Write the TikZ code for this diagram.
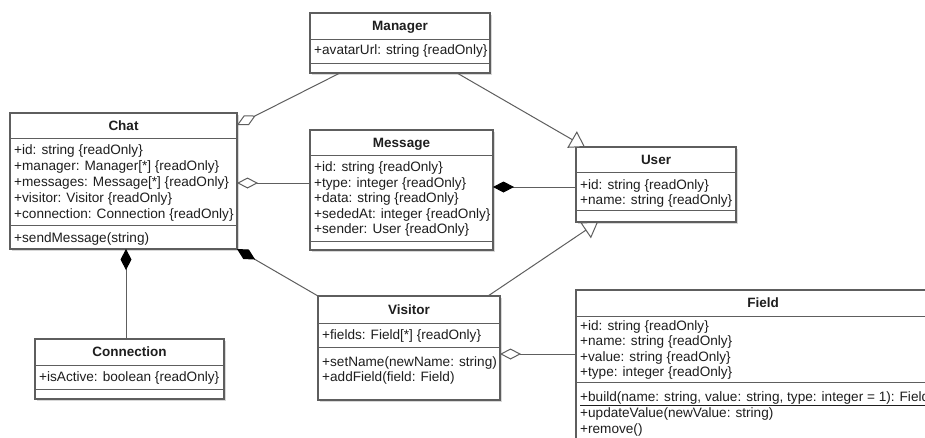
\documentclass[tikz,border=0pt]{standalone}
\usepackage{fontspec}
\setmainfont{Liberation Sans}
\usetikzlibrary{arrows.meta,calc,shadows}
\definecolor{lncol}{HTML}{5E5E5E}
\definecolor{txcol}{HTML}{1E1E1E}
\begin{document}
\begin{tikzpicture}[x=1pt,y=-1pt,
  cls/.style={draw=lncol,line width=1.1pt,fill=white,inner sep=0pt,outer sep=0pt,anchor=north west,
    drop shadow={shadow xshift=2pt,shadow yshift=-2pt,opacity=0.25,fill=black!60}},
  div/.style={draw=lncol,line width=1pt},
  ttl/.style={anchor=base,inner sep=0pt,text=txcol,font=\fontsize{13.5}{15}\selectfont\bfseries},
  attr/.style={anchor=base west,inner sep=0pt,text=txcol,font=\fontsize{13.6}{15}\selectfont},
  conn/.style={draw=lncol,line width=1pt},
  aggr/.style={conn,-{Diamond[open,length=21pt,width=11pt,fill=white]}},
  comp/.style={conn,-{Diamond[length=21pt,width=11pt,fill=black,color=black]}},
  gen/.style={conn,-{Triangle[open,length=15pt,width=19pt,fill=white]}}]
\fill[white] (0,0) rectangle (925,437);
\useasboundingbox (0,0) rectangle (925,437);

% ---------- Manager ----------
\node[cls,minimum width=180pt,minimum height=60pt] (mgr) at (310,13) {};
\draw[div] (310,39) -- (490,39);
\draw[div] (310,63) -- (490,63);
\node[ttl] (mgrT) at (400,30.5) {Manager};
\node[attr] (mgrA1) at (314,54.5) {+avatarUrl: string \{readOnly\}};

% ---------- Chat ----------
\node[cls,minimum width=227pt,minimum height=136pt] (chat) at (10,113) {};
\draw[div] (10,138) -- (237,138);
\draw[div] (10,225) -- (237,225);
\node[ttl] (chatT) at (123.5,130.5) {Chat};
\node[attr] (chatA1) at (14,154.5) {+id: string \{readOnly\}};
\node[attr] (chatA2) at (14,170.5) {+manager: Manager[*] \{readOnly\}};
\node[attr] (chatA3) at (14,186.5) {+messages: Message[*] \{readOnly\}};
\node[attr] (chatA4) at (14,202.5) {+visitor: Visitor \{readOnly\}};
\node[attr] (chatA5) at (14,218.5) {+connection: Connection \{readOnly\}};
\node[attr] (chatM1) at (14,242.5) {+sendMessage(string)};

% ---------- Message ----------
\node[cls,minimum width=183pt,minimum height=120pt] (msg) at (310,130) {};
\draw[div] (310,155) -- (493,155);
\draw[div] (310,241) -- (493,241);
\node[ttl] (msgT) at (401.5,147.5) {Message};
\node[attr] (msgA1) at (314,171.5) {+id: string \{readOnly\}};
\node[attr] (msgA2) at (314,187) {+type: integer \{readOnly\}};
\node[attr] (msgA3) at (314,202.5) {+data: string \{readOnly\}};
\node[attr] (msgA4) at (314,218) {+sededAt: integer \{readOnly\}};
\node[attr] (msgA5) at (314,233.5) {+sender: User \{readOnly\}};

% ---------- User ----------
\node[cls,minimum width=160pt,minimum height=75pt] (user) at (576,147) {};
\draw[div] (576,172) -- (736,172);
\draw[div] (576,210) -- (736,210);
\node[ttl] (userT) at (656,164.5) {User};
\node[attr] (userA1) at (580,189) {+id: string \{readOnly\}};
\node[attr] (userA2) at (580,204.5) {+name: string \{readOnly\}};

% ---------- Connection ----------
\node[cls,minimum width=189pt,minimum height=60pt] (cnx) at (35,339) {};
\draw[div] (35,365) -- (224,365);
\draw[div] (35,389) -- (224,389);
\node[ttl] (cnxT) at (129.5,356.5) {Connection};
\node[attr] (cnxA1) at (39,381.5) {+isActive: boolean \{readOnly\}};

% ---------- Visitor ----------
\node[cls,minimum width=182pt,minimum height=104pt] (vis) at (318,296) {};
\draw[div] (318,323) -- (500,323);
\draw[div] (318,347) -- (500,347);
\node[ttl] (visT) at (409,314.5) {Visitor};
\node[attr] (visA1) at (322,339.5) {+fields: Field[*] \{readOnly\}};
\node[attr] (visM1) at (322,366) {+setName(newName: string)};
\node[attr] (visM2) at (322,381.5) {+addField(field: Field)};

% ---------- Field ----------
\node[cls,minimum width=374pt,minimum height=170pt] (field) at (576,290) {};
\draw[div] (576,316) -- (950,316);
\draw[div] (576,382) -- (950,382);
\node[ttl] (fieldT) at (763,307.5) {Field};
\node[attr] (fieldA1) at (580,330) {+id: string \{readOnly\}};
\node[attr] (fieldA2) at (580,345.5) {+name: string \{readOnly\}};
\node[attr] (fieldA3) at (580,361) {+value: string \{readOnly\}};
\node[attr] (fieldA4) at (580,376.5) {+type: integer \{readOnly\}};
\node[attr] (fieldM1) at (580,401) {\underline{+build(name: string, value: string, type: integer = 1): Field}};
\node[attr] (fieldM2) at (580,417) {+updateValue(newValue: string)};
\node[attr] (fieldM3) at (580,433) {+remove()};

% ---------- Connectors ----------
\draw[aggr] ($(mgr.south west)+(30,0)$) -- ($(chat.north east)+(0,12)$);
\draw[gen]  ($(mgr.south west)+(147,0)$) -- ($(user.north west)+(9,0)$);
\draw[aggr] ($(msg.north west)+(0,53)$) -- ($(chat.north east)+(0,70)$);
\draw[comp] ($(user.north west)+(0,40)$) -- ($(msg.north east)+(0,57)$);
\draw[gen]  ($(vis.north west)+(170,0)$) -- ($(user.south west)+(22,0)$);
\draw[comp] (vis.north west) -- (chat.south east);
\draw[comp] ($(cnx.north west)+(91,0)$) -- ($(chat.south west)+(116,0)$);
\draw[aggr] ($(field.north west)+(0,64)$) -- ($(vis.north east)+(0,58)$);
\end{tikzpicture}
\end{document}
